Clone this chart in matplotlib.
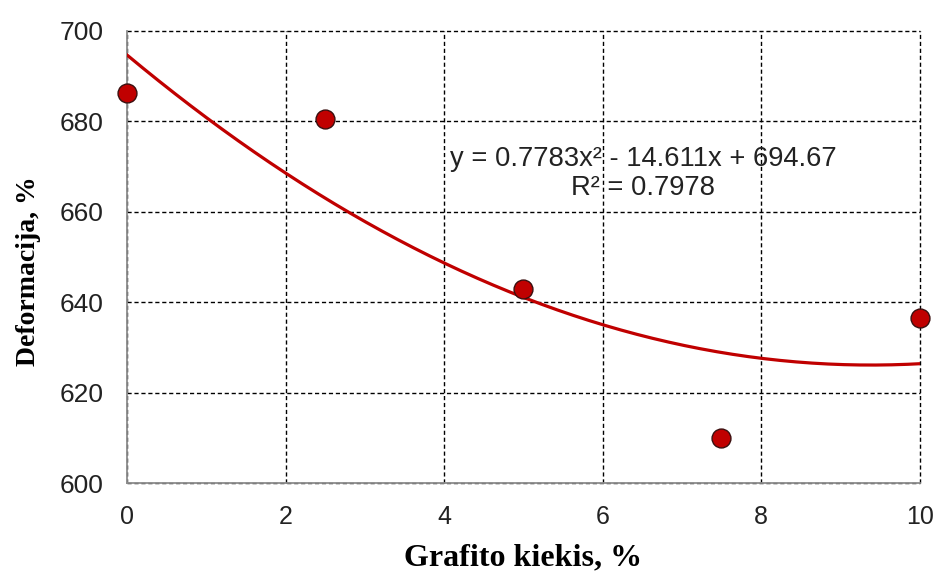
import numpy as np
import matplotlib
matplotlib.use("Agg")
import matplotlib.pyplot as plt

# Measured data
grafito = [0, 2.5, 5, 7.5, 10]
deformacija = [686.3, 680.5, 643.0, 610.0, 636.4]

# Second-order polynomial trendline coefficients
coef_a, coef_b, coef_c = 0.7783, -14.611, 694.67
r_squared = 0.7978

x_ticks = [0, 2, 4, 6, 8, 10]
y_ticks = [600, 620, 640, 660, 680, 700]

fig = plt.figure(figsize=(9.37, 5.71), dpi=100)
ax = fig.add_axes([0.1355, 0.154, 0.846, 0.792])

xs = np.linspace(0, 10, 200)
ax.plot(xs, coef_a * xs**2 + coef_b * xs + coef_c, color="#C00000", lw=2.3, zorder=3)
ax.scatter(grafito, deformacija, s=185, color="#C00000", edgecolor="#3a1010",
           linewidth=1.0, zorder=4, clip_on=False)

ax.set_xlim(0, 10)
ax.set_ylim(600, 700)
ax.set_xticks(x_ticks)
ax.set_yticks(y_ticks)
ax.grid(True, color="black", linestyle=(0, (3, 2)), linewidth=1.0)
ax.set_axisbelow(True)
for gl in ax.get_xgridlines() + ax.get_ygridlines():
    gl.set_clip_on(False)

for side in ("top", "right"):
    ax.spines[side].set_visible(False)
for side in ("left", "bottom"):
    ax.spines[side].set_color("#8c8c8c")
    ax.spines[side].set_linewidth(1.3)
    ax.spines[side].set_zorder(2.5)

ax.tick_params(axis="y", length=0, pad=17, colors="#222222")
ax.tick_params(axis="x", length=0, pad=16, colors="#222222")
for lbl in ax.get_yticklabels():
    lbl.set_fontfamily("Liberation Sans")
    lbl.set_fontsize(19)
for lbl in ax.get_xticklabels():
    lbl.set_fontfamily("Liberation Sans")
    lbl.set_fontsize(18)

ax.set_xlabel("Grafito kiekis, %", family="Liberation Serif", fontweight="bold",
              fontsize=23, labelpad=10)
ax.set_ylabel("Deformacija, %", family="Liberation Serif", fontweight="bold",
              fontsize=20)
ax.yaxis.set_label_coords(-0.108, 0.469)

eq = f"y = {coef_a}x² - {abs(coef_b)}x + {coef_c}\nR² = {r_squared}"
ax.text(6.51, 668.4, eq, ha="center", va="center", multialignment="center",
        family="Liberation Sans", fontsize=19.7, color="#222222",
        linespacing=1.15, zorder=5)

fig.savefig("out.png", dpi=100)
